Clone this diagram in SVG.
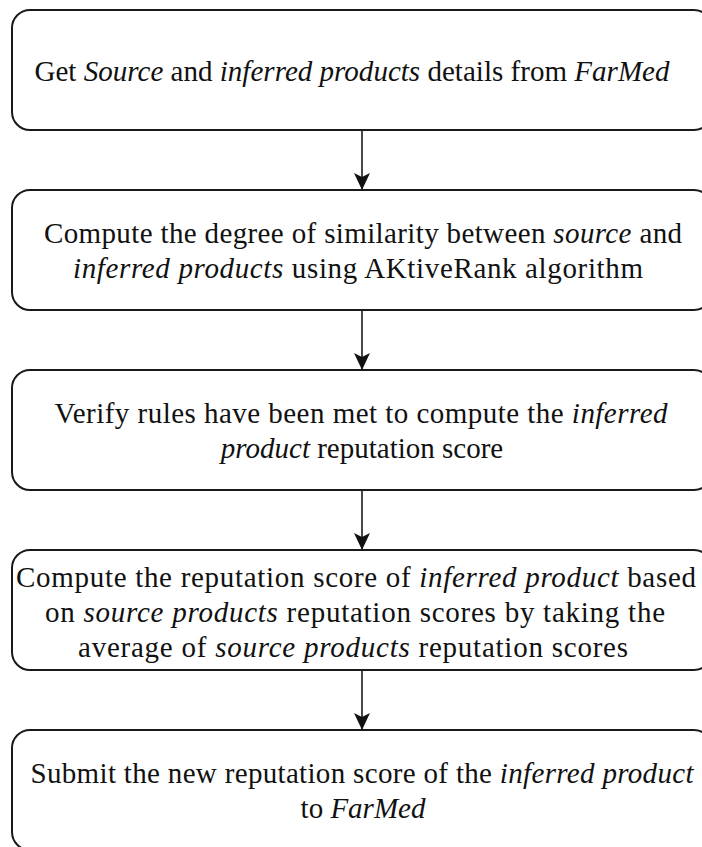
<svg xmlns="http://www.w3.org/2000/svg" width="702" height="847" viewBox="0 0 702 847">
  <style>
    .box { fill: #ffffff; stroke: #1a1a1a; stroke-width: 2; }
    .lbl { font-family: "Liberation Serif", "Times New Roman", serif; font-size: 29px; fill: #111111; text-anchor: middle; }
    .it { font-style: italic; }
    .edge { stroke: #1a1a1a; stroke-width: 1.6; fill: none; }
  </style>
  <defs>
    <marker id="arrow" viewBox="0 0 20 20" refX="18" refY="10" markerWidth="20" markerHeight="20" markerUnits="userSpaceOnUse" orient="auto">
      <path d="M 1 2 L 18 10 L 1 18 L 5 10 Z" fill="#111111"/>
    </marker>
  </defs>
  <rect width="702" height="847" fill="#ffffff"/>

  <g id="connectors">
    <line class="edge" x1="362" y1="130" x2="362" y2="190" marker-end="url(#arrow)"/>
    <line class="edge" x1="362" y1="310" x2="362" y2="370" marker-end="url(#arrow)"/>
    <line class="edge" x1="362" y1="490" x2="362" y2="550" marker-end="url(#arrow)"/>
    <line class="edge" x1="362" y1="670" x2="362" y2="730" marker-end="url(#arrow)"/>
  </g>

  <g id="step1">
    <rect class="box" x="12" y="10" width="700" height="120" rx="18" ry="18"/>
    <text class="lbl" x="352" y="81" textLength="635" lengthAdjust="spacing">Get <tspan class="it">Source</tspan> and <tspan class="it">inferred products</tspan> details from <tspan class="it">FarMed</tspan></text>
  </g>

  <g id="step2">
    <rect class="box" x="12" y="190" width="700" height="120" rx="18" ry="18"/>
    <text class="lbl" x="363" y="243" textLength="638" lengthAdjust="spacing">Compute the degree of similarity between <tspan class="it">source</tspan> and</text>
    <text class="lbl" x="358" y="278" textLength="570" lengthAdjust="spacing"><tspan class="it">inferred products</tspan> using AKtiveRank algorithm</text>
  </g>

  <g id="step3">
    <rect class="box" x="12" y="370" width="700" height="120" rx="18" ry="18"/>
    <text class="lbl" x="361" y="423" textLength="613" lengthAdjust="spacing">Verify rules have been met to compute the <tspan class="it">inferred</tspan></text>
    <text class="lbl" x="362" y="458"><tspan class="it">product</tspan> reputation score</text>
  </g>

  <g id="step4">
    <rect class="box" x="12" y="550" width="700" height="120" rx="18" ry="18"/>
    <text class="lbl" x="356" y="587" textLength="680" lengthAdjust="spacing">Compute the reputation score of <tspan class="it">inferred product</tspan> based</text>
    <text class="lbl" x="355" y="622" textLength="620" lengthAdjust="spacing">on <tspan class="it">source products</tspan> reputation scores by taking the</text>
    <text class="lbl" x="353" y="657" textLength="550" lengthAdjust="spacing">average of <tspan class="it">source products</tspan> reputation scores</text>
  </g>

  <g id="step5">
    <rect class="box" x="12" y="730" width="700" height="120" rx="18" ry="18"/>
    <text class="lbl" x="362" y="783" textLength="663" lengthAdjust="spacing">Submit the new reputation score of the <tspan class="it">inferred product</tspan></text>
    <text class="lbl" x="363" y="818">to <tspan class="it">FarMed</tspan></text>
  </g>
</svg>
